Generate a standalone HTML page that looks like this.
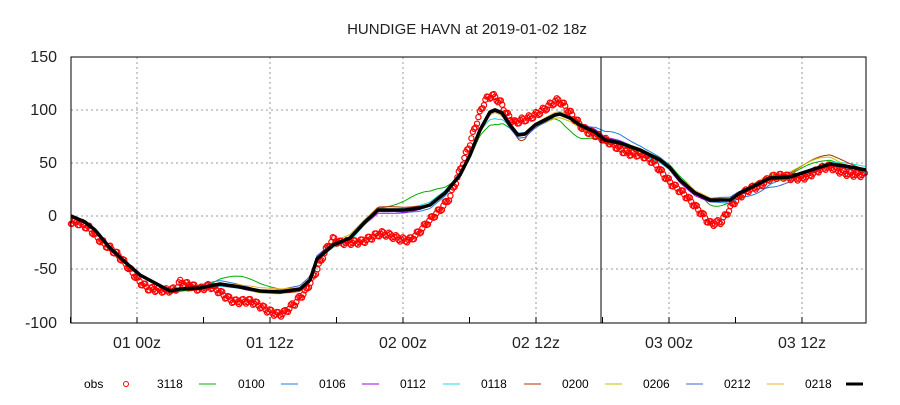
<!DOCTYPE html>
<html><head><meta charset="utf-8"><style>
body{margin:0;background:#fff;width:900px;height:400px;overflow:hidden}
svg text{font-family:"Liberation Sans",sans-serif}
</style></head><body>
<svg id="s" width="900" height="400" xmlns="http://www.w3.org/2000/svg">
<rect width="900" height="400" fill="#fff"/>
<text x="467" y="34" font-size="15" text-anchor="middle" fill="#222">HUNDIGE HAVN at 2019-01-02 18z</text>
<g stroke="#999" stroke-dasharray="2,3" stroke-width="1">
<line x1="71" y1="110" x2="866" y2="110"/><line x1="71" y1="163" x2="866" y2="163"/>
<line x1="71" y1="216" x2="866" y2="216"/><line x1="71" y1="269" x2="866" y2="269"/>
<line x1="137" y1="57" x2="137" y2="323"/><line x1="270" y1="57" x2="270" y2="323"/>
<line x1="403" y1="57" x2="403" y2="323"/><line x1="536" y1="57" x2="536" y2="323"/>
<line x1="669" y1="57" x2="669" y2="323"/><line x1="802" y1="57" x2="802" y2="323"/>
</g>
<g font-size="16" fill="#222" text-anchor="end">
<text x="57" y="62">150</text><text x="57" y="115">100</text><text x="57" y="168">50</text>
<text x="57" y="221">0</text><text x="57" y="274">-50</text><text x="57" y="328">-100</text>
</g>
<g font-size="16" fill="#222" text-anchor="middle">
<text x="137" y="348">01 00z</text><text x="270" y="348">01 12z</text><text x="403" y="348">02 00z</text>
<text x="536" y="348">02 12z</text><text x="669" y="348">03 00z</text><text x="802" y="348">03 12z</text>
</g>
<g id="ticks" stroke="#000" stroke-width="1"></g>
<g id="ser"></g>
<line x1="601" y1="57" x2="601" y2="323" stroke="#000" stroke-width="1"/>
<rect x="71" y="57" width="795" height="266" fill="none" stroke="#000" stroke-width="1"/>
<g font-size="12" fill="#000">
<text x="84" y="388">obs</text><circle cx="126" cy="384" r="2.5" fill="none" stroke="red"/>
<text x="157" y="388">3118</text><line x1="199" y1="384" x2="216" y2="384" stroke="#00b000"/>
<text x="238" y="388">0100</text><line x1="281" y1="384" x2="298" y2="384" stroke="#1e7fe0"/>
<text x="319" y="388">0106</text><line x1="362" y1="384" x2="379" y2="384" stroke="#a000e0"/>
<text x="400" y="388">0112</text><line x1="443" y1="384" x2="460" y2="384" stroke="#20d8e0"/>
<text x="481" y="388">0118</text><line x1="524" y1="384" x2="541" y2="384" stroke="#b03000"/>
<text x="562" y="388">0200</text><line x1="605" y1="384" x2="622" y2="384" stroke="#c0c000"/>
<text x="643" y="388">0206</text><line x1="686" y1="384" x2="703" y2="384" stroke="#4060d0"/>
<text x="724" y="388">0212</text><line x1="767" y1="384" x2="784" y2="384" stroke="#f0b030"/>
<text x="805" y="388">0218</text><line x1="846" y1="384" x2="863" y2="384" stroke="#000" stroke-width="3"/>
</g>
</svg>
<script>
var NS="http://www.w3.org/2000/svg";
var tk=document.getElementById("ticks"),g=document.getElementById("ser");
for(var x=137-66.5;x<=866;x+=66.5){var l=document.createElementNS(NS,"line");l.setAttribute("x1",x);l.setAttribute("x2",x);l.setAttribute("y1",323);l.setAttribute("y2",317);tk.appendChild(l);}
var B=[[71,216],[85,222],[95,230],[110,248],[125,262],[140,275],[155,283],[170,291],[180,289],[200,288],[220,284],[240,287],[260,291],[280,292],[300,289],[310,280],[317,259],[333,245],[350,238],[365,222],[378,210],[405,210],[420,208],[430,205],[445,193],[460,175],[470,155],[480,130],[490,112],[495,110],[502,113],[510,125],[518,135],[525,134],[535,125],[545,120],[555,115],[560,114],[570,118],[580,125],[595,132],[605,140],[620,143],[640,150],[660,160],[670,168],[680,180],[695,193],[710,200],[730,200],[740,193],[760,183],[770,178],[790,177],[805,172],[830,164],[845,166],[866,170]];
function bi(x){for(var i=1;i<B.length;i++){if(x<=B[i][0]){var a=B[i-1],b=B[i];return a[1]+(b[1]-a[1])*(x-a[0])/(b[0]-a[0]);}}return B[B.length-1][1];}
function bump(x,c,w,h){return h*Math.exp(-Math.pow((x-c)/w,2));}
var cols=["#00b000","#1e7fe0","#a000e0","#20d8e0","#b03000","#c0c000","#4060d0","#f0b030"];
cols.forEach(function(c,k){
 var s=171+k*(k<3?8:4);var pts=[];
 for(var x=s;x<=866;x+=2){
  var y=bi(x)+2*Math.sin(x/23+k*1.7)+1.5*Math.sin(x/61+k);
  if(k==0){y+=bump(x,240,25,-8)+bump(x,425,25,-15)+bump(x,495,12,12)+bump(x,575,20,14)+bump(x,715,15,8)+bump(x,810,25,-6);}
  if(k==1){y+=bump(x,610,20,-8)+bump(x,760,20,8);}
  if(k==4){y+=bump(x,522,8,8)+bump(x,820,25,-7);}
  if(k==5){y+=bump(x,820,25,-9);}
  if(k==6){y+=bump(x,770,20,10);}
  if(k==3){y+=bump(x,495,12,8);}
  pts.push(x+","+y.toFixed(1));}
 var p=document.createElementNS(NS,"polyline");p.setAttribute("points",pts.join(" "));p.setAttribute("fill","none");p.setAttribute("stroke",c);p.setAttribute("stroke-width","1");g.appendChild(p);
});
var O=[[71,223],[90,228],[110,248],[125,265],[140,280],[150,288],[165,293],[175,290],[180,281],[190,283],[200,290],[210,288],[220,292],[235,300],[250,303],[260,307],[270,310],[280,313],[285,312],[295,305],[305,293],[315,272],[325,250],[333,240],[340,245],[350,243],[360,240],[370,237],[380,235],[390,237],[400,238],[410,238],[420,232],[430,222],[440,210],[450,195],[460,170],[470,145],[478,120],[485,100],[492,93],[500,100],[507,115],[515,125],[525,120],[540,110],[550,105],[558,102],[565,108],[575,118],[585,128],[595,135],[605,142],[625,150],[640,155],[655,165],[665,175],[680,190],[695,208],[710,222],[722,220],[735,203],[750,188],[770,178],[790,178],[805,175],[830,168],[850,172],[866,177]];
function oi(x){for(var i=1;i<O.length;i++){if(x<=O[i][0]){var a=O[i-1],b=O[i];return a[1]+(b[1]-a[1])*(x-a[0])/(b[0]-a[0]);}}return O[O.length-1][1];}
for(var x=71;x<=866;x+=1.4){var y=oi(x)+2.5*Math.sin(x*0.9)+2*Math.sin(x/7);
 var c=document.createElementNS(NS,"circle");c.setAttribute("cx",x.toFixed(1));c.setAttribute("cy",y.toFixed(1));c.setAttribute("r","2.6");c.setAttribute("fill","none");c.setAttribute("stroke","red");c.setAttribute("stroke-width","1.2");g.appendChild(c);}
var p=document.createElementNS(NS,"polyline");p.setAttribute("points",B.map(function(q){return q.join(",")}).join(" "));p.setAttribute("fill","none");p.setAttribute("stroke","#000");p.setAttribute("stroke-width","3.5");p.setAttribute("stroke-linejoin","round");g.appendChild(p);
</script>
</body></html>
